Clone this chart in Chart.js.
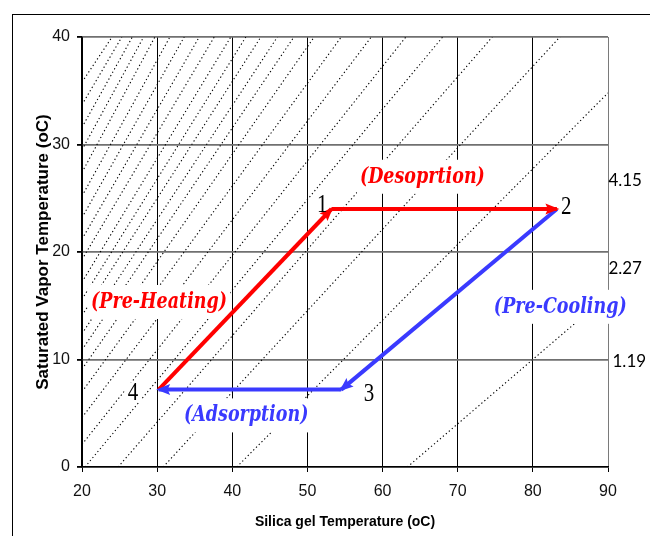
<!DOCTYPE html>
<html><head><meta charset="utf-8">
<script src="https://cdn.jsdelivr.net/npm/chart.js@4.4.1/dist/chart.umd.min.js"></script>
<style>
html,body{margin:0;padding:0;background:#fff;}
#wrap{position:relative;width:650px;height:536px;overflow:hidden;background:#fff;}
#frame{position:absolute;left:12px;top:14px;width:700px;height:600px;border:1.5px solid #000;}
#c{position:absolute;left:0;top:0;}
</style></head><body>
<div id="wrap"><div id="frame"></div><canvas id="c" width="650" height="536"></canvas></div>
<script>
// ---- data ----
const xTicks = [20, 30, 40, 50, 60, 70, 80, 90];
const yTicks = [0, 10, 20, 30, 40];

// dotted isostere lines: start (x1,y1) and end (x2,y2)
const isoX1 = [63.3, 40.6, 30.8, 24.8, 20.4, 20, 20, 20, 20, 20, 20, 20, 20, 20, 20, 20, 20, 20, 20, 20, 20, 20, 20];
const isoY1 = [0, 0, 0, 0, 0, 2.1, 4.6, 7.0, 9.1, 10.9, 12.4, 14.1, 15.6, 17.2, 19.3, 21.2, 23.2, 25.2, 27.4, 29.5, 31.6, 33.7, 35.8];
const isoX2 = [90, 90, 83.6, 74.6, 68.0, 63.1, 58.5, 54.5, 50.9, 48.2, 46.0, 43.8, 41.8, 39.8, 37.6, 35.6, 33.6, 31.7, 29.7, 28.2, 26.7, 25.3, 24.0];
const isoY2 = [16.0, 34.8, 40, 40, 40, 40, 40, 40, 40, 40, 40, 40, 40, 40, 40, 40, 40, 40, 40, 40, 40, 40, 40];

// cycle state points 1..4
const stateLabels = ['1', '2', '3', '4'];
const stateX = [53.2, 83.2, 54.5, 30.2];
const stateY = [24.0, 24.0, 7.2, 7.2];

// arrows: from state index -> to state index
const arrowFrom = [3, 0, 1, 2];
const arrowTo   = [0, 1, 2, 3];

const phaseNames = ['(Pre-Heating)', '(Desoprtion)', '(Pre-Cooling)', '(Adsorption)'];
const pressureLabels = ['4.15', '2.27', '1.19'];

// ---- styles / placement ----
const RED = '#ff0000', BLUE = '#3a3aff';
const arrowColors = [RED, RED, BLUE, BLUE];
const placement = {
  phase: [{x:30.25,y:15.35,c:RED},{x:65.3,y:27.0,c:RED},{x:83.65,y:14.9,c:BLUE},{x:41.85,y:4.8,c:BLUE}],
  state: [{x:51.96,y:24.45},{x:84.45,y:24.3},{x:58.2,y:6.85},{x:26.8,y:6.95}],
  press: [{x:90.05,y:26.7},{x:90.05,y:18.5},{x:90.6,y:9.9}]
};
const phaseFont = 'italic bold 17.5px "DejaVu Serif", serif';
const phaseStretch = 1.3;
const stateFont = '21px "Liberation Serif", "Times New Roman", serif';
const stateStretch = 1.15;
const pressFont = '17px Lato, "Open Sans", sans-serif';
const sans = '"Liberation Sans", Arial, sans-serif';

const datasets = [];
arrowFrom.forEach((f, i) => {
  const t = arrowTo[i];
  datasets.push({
    label: 'arrow' + i, isArrow: true,
    data: [{x: stateX[f], y: stateY[f]}, {x: stateX[t], y: stateY[t]}],
    showLine: true, borderColor: arrowColors[i], backgroundColor: arrowColors[i],
    borderWidth: 4, pointRadius: 0, borderCapStyle: 'butt', order: 0
  });
});
isoX1.forEach((x1, i) => {
  datasets.push({
    label: 'iso' + i,
    data: [{x: x1, y: isoY1[i]}, {x: isoX2[i], y: isoY2[i]}],
    showLine: true, borderColor: '#000', borderWidth: 1.1,
    borderDash: [1.3, 2.6], pointRadius: 0, order: 1
  });
});

let masksDone = false;
function textBox(ctx, text, font, cx, cy, h) {
  ctx.font = font;
  const w = ctx.measureText(text).width;
  ctx.fillStyle = '#fff';
  ctx.fillRect(cx - w/2 - 3, cy - h/2, w + 6, h);
}
function stretchedText(ctx, text, font, color, cx, cy, sy, dy) {
  ctx.save();
  ctx.translate(cx, cy);
  ctx.scale(1, sy);
  ctx.font = font; ctx.fillStyle = color;
  ctx.fillText(text, 0, dy);
  ctx.restore();
}
const annot = {
  id: 'annot',
  beforeDraw() { masksDone = false; },
  beforeDatasetDraw(chart, args) {
    if (masksDone || !chart.data.datasets[args.index].isArrow) return;
    masksDone = true;
    const ctx = chart.ctx, xs = chart.scales.x, ys = chart.scales.y;
    ctx.save();
    placement.phase.forEach((p, i) => textBox(ctx, phaseNames[i], phaseFont, xs.getPixelForValue(p.x), ys.getPixelForValue(p.y), 34));
    placement.state.forEach((p, i) => textBox(ctx, stateLabels[i], stateFont, xs.getPixelForValue(p.x), ys.getPixelForValue(p.y), 20));
    ctx.restore();
  },
  afterDatasetsDraw(chart) {
    const ctx = chart.ctx, xs = chart.scales.x, ys = chart.scales.y;
    ctx.save();
    // arrow heads
    chart.data.datasets.forEach((ds) => {
      if (!ds.isArrow) return;
      const a = ds.data[0], b = ds.data[1];
      const x1 = xs.getPixelForValue(a.x), y1 = ys.getPixelForValue(a.y);
      const x2 = xs.getPixelForValue(b.x), y2 = ys.getPixelForValue(b.y);
      const ang = Math.atan2(y2 - y1, x2 - x1);
      ctx.save();
      ctx.translate(x2, y2); ctx.rotate(ang);
      ctx.fillStyle = ds.borderColor;
      ctx.beginPath();
      ctx.moveTo(2.5, 0); ctx.lineTo(-11.5, -5.5); ctx.lineTo(-9, 0); ctx.lineTo(-11.5, 5.5);
      ctx.closePath(); ctx.fill();
      ctx.restore();
    });
    // phase labels
    ctx.textAlign = 'center'; ctx.textBaseline = 'middle';
    placement.phase.forEach((p, i) => {
      stretchedText(ctx, phaseNames[i], phaseFont, p.c, xs.getPixelForValue(p.x), ys.getPixelForValue(p.y), phaseStretch, 0);
    });
    // state numbers
    ctx.textBaseline = 'alphabetic';
    placement.state.forEach((p, i) => {
      stretchedText(ctx, stateLabels[i], stateFont, '#000', xs.getPixelForValue(p.x), ys.getPixelForValue(p.y), stateStretch, 7);
    });
    // pressure labels at right
    ctx.textAlign = 'left';
    placement.press.forEach((p, i) => {
      ctx.font = pressFont; ctx.fillStyle = '#000';
      ctx.fillText(pressureLabels[i], xs.getPixelForValue(p.x), ys.getPixelForValue(p.y) + 6);
    });
    ctx.restore();
  }
};

new Chart(document.getElementById('c'), {
  type: 'scatter',
  data: { datasets },
  plugins: [annot],
  options: {
    responsive: false, animation: false, devicePixelRatio: 1,
    layout: { padding: { top: 37, right: 42, left: 0, bottom: 0 } },
    plugins: { legend: { display: false }, tooltip: { enabled: false } },
    elements: { line: { tension: 0 } },
    scales: {
      x: {
        type: 'linear', min: 20, max: 90,
        afterBuildTicks: s => { s.ticks = xTicks.map(v => ({ value: v })); },
        afterFit: s => { s.height = 69; },
        ticks: { padding: 10, color: '#111', font: { family: sans, size: 16 } },
        grid: { color: c => (c.tick && c.tick.value === 90) ? '#7a7a7a' : '#000', lineWidth: 1, tickLength: 5, tickColor: '#000' },
        border: { color: '#000', width: 1.5 },
        title: { display: true, text: 'Silica gel Temperature (oC)', color: '#000', padding: { top: 0, bottom: 5 },
                 font: { family: sans, size: 14, weight: 'bold' } }
      },
      y: {
        type: 'linear', min: 0, max: 40,
        afterBuildTicks: s => { s.ticks = yTicks.map(v => ({ value: v })); },
        afterFit: s => { s.width = 82; },
        ticks: { padding: 7, color: '#111', font: { family: sans, size: 16 } },
        grid: { color: '#707070', lineWidth: 1.8, tickLength: 5, tickColor: '#000' },
        border: { color: '#000', width: 1.5 },
        title: { display: true, text: 'Saturated Vapor Temperature (oC)', color: '#000', padding: { top: 33, bottom: 0 },
                 font: { family: sans, size: 17, weight: 'bold' } }
      }
    }
  }
});
</script>
</body></html>
